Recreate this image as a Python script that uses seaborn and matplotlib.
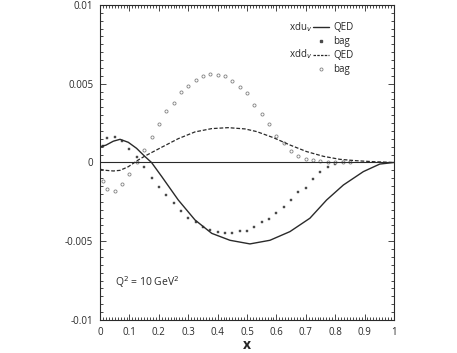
import matplotlib
matplotlib.use("Agg")
import matplotlib.pyplot as plt
from matplotlib.lines import Line2D
from matplotlib.ticker import MultipleLocator
import pandas as pd
import seaborn as sns

# QED curves
du_x = [0.0, 0.02, 0.045, 0.068, 0.096, 0.124, 0.153, 0.175, 0.21, 0.266, 0.323,
        0.38, 0.442, 0.51, 0.578, 0.646, 0.714, 0.771, 0.828, 0.896, 0.952, 1.0]
qed_du = [0.0010, 0.0011, 0.00135, 0.00147, 0.00128, 0.0009, 0.00037, 0.0, -0.0009,
          -0.00238, -0.00365, -0.0045, -0.00494, -0.00517, -0.00494, -0.00439,
          -0.00354, -0.00238, -0.00143, -0.00058, -0.0001, 0.0]
dd_x = [0.0, 0.02, 0.045, 0.068, 0.096, 0.13, 0.153, 0.21, 0.266, 0.323, 0.38, 0.436,
        0.493, 0.533, 0.589, 0.646, 0.703, 0.76, 0.816, 0.873, 0.93, 1.0]
qed_dd = [-0.00043, -0.0005, -0.00054, -0.0005, -0.00027, 0.00016, 0.00041, 0.00097,
          0.00151, 0.00194, 0.00215, 0.00221, 0.00213, 0.00196, 0.00158, 0.00111,
          0.00069, 0.00039, 0.0002, 0.00011, 0.00005, 0.0]

# bag model points
bag_x = [0.01, 0.025, 0.05, 0.075, 0.1, 0.125, 0.15, 0.175, 0.2, 0.225, 0.25, 0.275,
         0.3, 0.325, 0.35, 0.375, 0.4, 0.425, 0.45, 0.475, 0.5, 0.525, 0.55, 0.575,
         0.6, 0.625, 0.65, 0.675, 0.7, 0.725, 0.75, 0.775, 0.8, 0.825, 0.85]
bag_du = [0.00105, 0.00156, 0.00164, 0.00137, 0.00084, 0.00033, -0.00027, -0.00097,
          -0.00158, -0.00206, -0.00257, -0.0031, -0.0035, -0.0038, -0.0041, -0.00429,
          -0.0044, -0.0045, -0.0045, -0.00437, -0.00435, -0.0041, -0.00378, -0.0036,
          -0.00323, -0.00283, -0.0024, -0.0019, -0.0016, -0.00107, -0.00058, -0.00027,
          -0.00008, 0.0, 0.0]
bag_dd = [-0.00117, -0.00168, -0.00183, -0.00138, -0.00075, 0.00005, 0.00079, 0.0016,
          0.00246, 0.00329, 0.00376, 0.00446, 0.00486, 0.00524, 0.00547, 0.00564,
          0.00558, 0.00547, 0.00516, 0.00481, 0.0044, 0.00367, 0.00308, 0.00244,
          0.00166, 0.00126, 0.00073, 0.00043, 0.00022, 0.00014, 0.00008, 0.00005,
          0.00003, 0.00002, 0.00001]

x_ticks = [0, 0.1, 0.2, 0.3, 0.4, 0.5, 0.6, 0.7, 0.8, 0.9, 1]
x_ticklabels = ["0", "0.1", "0.2", "0.3", "0.4", "0.5", "0.6", "0.7", "0.8", "0.9", "1"]
y_ticks = [-0.01, -0.005, 0, 0.005, 0.01]
y_ticklabels = ["-0.01", "-0.005", "0", "0.005", "0.01"]

df_du = pd.DataFrame({"x": du_x, "y": qed_du})
df_dd = pd.DataFrame({"x": dd_x, "y": qed_dd})
df_bag = pd.DataFrame({"x": bag_x, "du": bag_du, "dd": bag_dd})

sns.set_style("ticks")
plt.rcParams["font.family"] = ["Open Sans", "DejaVu Sans"]

fig = plt.figure(figsize=(4.57, 3.53), dpi=100)
ax = fig.add_axes([0.219, 0.0935, 0.643, 0.8925])

ink = "#2a2a2a"
ax.axhline(0, color=ink, lw=0.8)

sns.lineplot(data=df_du, x="x", y="y", ax=ax, color=ink, lw=1.0)
sns.lineplot(data=df_dd, x="x", y="y", ax=ax, color=ink, lw=0.9, linestyle=(0, (3, 1.5)))
sns.scatterplot(data=df_bag, x="x", y="du", ax=ax, marker="s", s=4.5, color="#4a4a4a",
                edgecolor="#4a4a4a", linewidth=0.3)
sns.scatterplot(data=df_bag, x="x", y="dd", ax=ax, marker="o", s=5, facecolor="white",
                edgecolor="#808080", linewidth=0.6)

ax.set_xlim(0, 1)
ax.set_ylim(-0.01, 0.01)
ax.set_xticks(x_ticks)
ax.set_xticklabels(x_ticklabels)
ax.set_yticks(y_ticks)
ax.set_yticklabels(y_ticklabels)
ax.xaxis.set_minor_locator(MultipleLocator(0.01))
ax.yaxis.set_minor_locator(MultipleLocator(0.0005))
ax.tick_params(which="both", direction="in", top=True, right=True, colors=ink,
               labelsize=7, width=0.6)
ax.tick_params(which="major", length=4)
ax.tick_params(which="minor", length=2.2)
ax.tick_params(axis="y", pad=5)
ax.tick_params(axis="x", pad=5)
for s in ax.spines.values():
    s.set_linewidth(0.8)
    s.set_color(ink)

ax.set_xlabel("x", fontsize=10, fontweight="bold", labelpad=0)
ax.set_ylabel("")

ax.text(0.05, 0.12, r"Q$^2$ = 10 GeV$^2$", transform=ax.transAxes, fontsize=7.5,
        color=ink, va="center")

# legend
handles = [
    Line2D([], [], color=ink, lw=1.0),
    Line2D([], [], color="#4a4a4a", marker="s", ms=2.1, ls="none"),
    Line2D([], [], color=ink, lw=0.9, linestyle=(0, (2, 1))),
    Line2D([], [], color="#808080", marker="o", ms=2.2, mfc="white", ls="none", mew=0.6),
]
labels = ["QED", "bag", "QED", "bag"]
ax.legend(handles, labels, loc="upper left", bbox_to_anchor=(0.725, 0.945), frameon=False,
          fontsize=7, handlelength=1.6, handletextpad=0.5, labelspacing=0.3,
          borderpad=0, borderaxespad=0)
ax.text(0.722, 0.930, r"xdu$_v$", transform=ax.transAxes, fontsize=7, ha="right",
        va="center", color=ink)
ax.text(0.722, 0.844, r"xdd$_v$", transform=ax.transAxes, fontsize=7, ha="right",
        va="center", color=ink)

fig.savefig("out.png", dpi=100)
